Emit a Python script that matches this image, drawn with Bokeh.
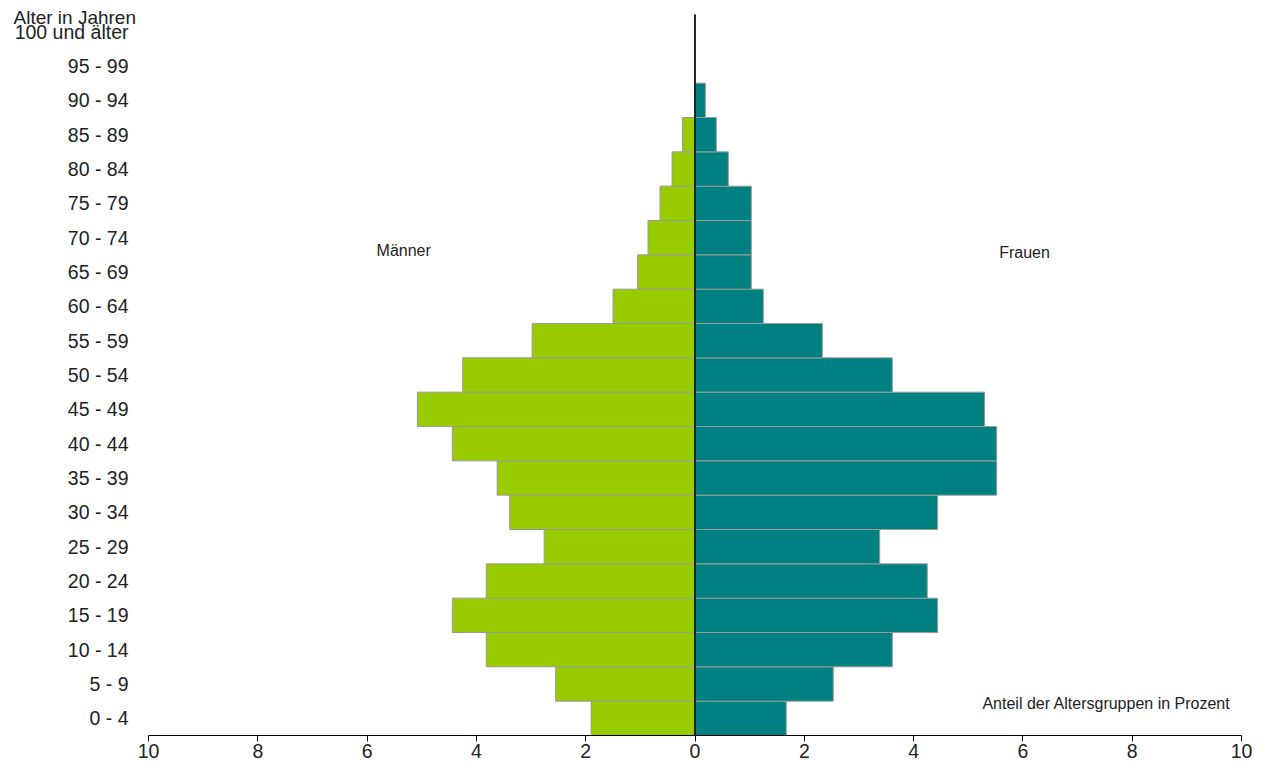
from bokeh.plotting import figure
from bokeh.models import ColumnDataSource, Range1d, FixedTicker, Label
from bokeh.embed import file_html
from bokeh.resources import INLINE

age_groups = ["0 - 4", "5 - 9", "10 - 14", "15 - 19", "20 - 24", "25 - 29", "30 - 34",
              "35 - 39", "40 - 44", "45 - 49", "50 - 54", "55 - 59", "60 - 64", "65 - 69",
              "70 - 74", "75 - 79", "80 - 84", "85 - 89", "90 - 94", "95 - 99", "100 und älter"]
maenner = [1.90, 2.55, 3.82, 4.44, 3.82, 2.76, 3.39, 3.62, 4.44, 5.08, 4.25, 2.98,
           1.50, 1.05, 0.86, 0.64, 0.42, 0.23, 0.0, 0.0, 0.0]
frauen = [1.67, 2.53, 3.61, 4.44, 4.25, 3.38, 4.44, 5.52, 5.52, 5.30, 3.61, 2.33,
          1.25, 1.03, 1.03, 1.03, 0.61, 0.39, 0.19, 0.0, 0.0]
x_ticks = [-10, -8, -6, -4, -2, 0, 2, 4, 6, 8, 10]

FONT = "Liberation Sans"
TXT = "#222222"
idx = list(range(len(age_groups)))
n = len(idx)

# layout geometry (pixels)
AX_LEFT, AX_RIGHT, AX_TOP, AX_BOTTOM = 148, 1241, 14, 735
W, H = 1262, 772
xppu = (AX_RIGHT - AX_LEFT) / 20.0
yppu = (AX_BOTTOM - AX_TOP) / n
x_start = -10 - AX_LEFT / xppu
y_end = (n - 0.5) + AX_TOP / yppu

src = ColumnDataSource(dict(
    y=idx,
    m_left=[-v for v in maenner],
    f_right=frauen,
    zero=[0] * n,
))

p = figure(width=W, height=H, output_backend="svg", toolbar_location=None,
           x_range=Range1d(x_start, 10), y_range=Range1d(-0.5, y_end),
           min_border_left=0, min_border_right=W - AX_RIGHT, min_border_top=0,
           min_border_bottom=H - AX_BOTTOM)
p.outline_line_color = None
p.xgrid.visible = False
p.ygrid.visible = False
p.background_fill_color = "white"

p.hbar(y="y", left="m_left", right="zero", height=1, source=src,
       fill_color="#99CC00", line_color="#9a9a9a", line_width=1)
p.hbar(y="y", left="zero", right="f_right", height=1, source=src,
       fill_color="#008080", line_color="#9a9a9a", line_width=1)

# zero line
p.segment(x0=[0], y0=[-0.5], x1=[0], y1=[n - 0.5], line_color="black", line_width=1.5)

# x axis
xa = p.xaxis[0]
xa.ticker = FixedTicker(ticks=x_ticks)
xa.bounds = (-10, 10)
xa.major_label_overrides = {t: str(abs(t)) for t in x_ticks}
xa.minor_tick_line_color = None
xa.major_tick_in = 0
xa.major_tick_out = 6
xa.axis_line_color = "black"
xa.major_tick_line_color = "black"
xa.major_label_standoff = 2
xa.major_label_text_font = FONT
xa.major_label_text_font_size = "19.5px"
xa.major_label_text_color = TXT

# y axis (placed at x = -10 inside the canvas)
ya = p.yaxis[0]
ya.fixed_location = -10
ya.ticker = FixedTicker(ticks=idx)
ya.major_label_overrides = {i: lab for i, lab in zip(idx, age_groups)}
ya.axis_line_color = None
ya.major_tick_line_color = None
ya.minor_tick_line_color = None
ya.major_tick_out = 0
ya.major_tick_in = 0
ya.major_label_standoff = 20
ya.major_label_text_font = FONT
ya.major_label_text_font_size = "19.5px"
ya.major_label_text_color = TXT

def add_label(text, x, y, align="center", size="16px", **kw):
    p.add_layout(Label(x=x, y=y, text=text, text_align=align, text_baseline="middle",
                       text_font=FONT, text_font_size=size, text_color=TXT, **kw))

add_label("Alter in Jahren", -10, (n - 0.5) - 3 / yppu, align="left", size="19px",
          x_offset=13 - AX_LEFT)
add_label("Männer", -5.33, 13.63)
add_label("Frauen", 6.03, 13.57)
add_label("Anteil der Altersgruppen in Prozent", 7.53, 0.43)

open("out.html", "w").write(file_html(p, INLINE))
